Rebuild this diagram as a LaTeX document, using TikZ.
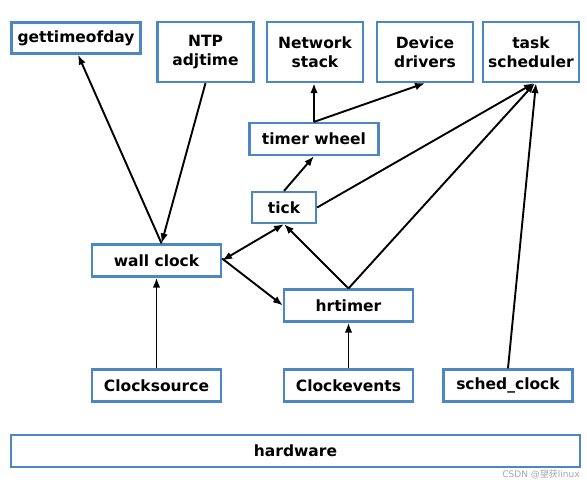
\documentclass[tikz,border=0pt]{standalone}
\usepackage{fontspec}
\setmainfont{DejaVu Sans}
\newfontfamily\cjk{Noto Sans CJK SC}
\usepackage{tikz}
\usetikzlibrary{arrows.meta}
\definecolor{boxblue}{RGB}{75,135,195}

\begin{document}
\begin{tikzpicture}[>={Latex[length=10pt,width=7.5pt]}, x=1pt, y=-1pt,
  box/.style={draw=boxblue, line width=2.2pt, fill=white, align=center,
    inner sep=0pt, font=\fontsize{15.5}{19}\selectfont\bfseries},
  wide/.style={box, minimum width=129pt, minimum height=32pt},
  tall/.style={box, minimum width=96pt, minimum height=60pt},
  link/.style={line width=1.9pt}]
\useasboundingbox (0,0) rectangle (587,485);
% top row
\node[wide, minimum height=31pt] (gtod) at (76,38) {gettimeofday};
\node[tall] (ntp) at (205.5,52) {NTP\\adjtime};
\node[tall] (net) at (315,52) {Network\\stack};
\node[tall] (dev) at (425,52) {Device\\drivers};
\node[tall] (task) at (531,52) {task\\scheduler};
% middle
\node[wide] (wheel) at (314,139) {timer wheel};
\node[box, minimum width=64pt, minimum height=31pt] (tick) at (284,207.5) {tick};
\node[wide] (wall) at (156.5,260.5) {wall clock};
\node[wide] (hrt) at (348.5,305.5) {hrtimer};
% bottom
\node[wide] (csrc) at (156.5,385.5) {Clocksource};
\node[wide] (cevt) at (348.5,385.5) {Clockevents};
\node[wide] (sched) at (508,385.5) {sched\_clock};
\node[box, minimum width=569pt, minimum height=32pt] (hw) at (295.5,451) {hardware};
\node[text=gray!70, font=\fontsize{9}{10}\selectfont] (mark) at (541,474) {CSDN @{\cjk 望获}linux};
% connectors
\draw[link,->] ([xshift=5pt]wall.north) to ([xshift=2pt]gtod.south);
\draw[link,->] (ntp.south) to ([xshift=5pt]wall.north);
\draw[link,->] (csrc.north) to (wall.south);
\draw[link,<->] (wall.east) to (tick.south);
\draw[link,->] ([yshift=2pt]wall.east) to (hrt.west);
\draw[link,->] (hrt.north) to (tick.south);
\draw[link,->] (hrt.north) to ([xshift=4pt]task.south);
\draw[link,->] (tick.east) to ([xshift=3pt]task.south);
\draw[link,->] (tick.north) to (wheel.south);
\draw[link,->] (wheel.north) to (wheel.north |- net.south);
\draw[link,->] (wheel.north) to (dev.south);
\draw[link,->] (sched.north) to ([xshift=5pt]task.south);
\draw[link,->] (cevt.north) to (hrt.south);
\end{tikzpicture}
\end{document}
